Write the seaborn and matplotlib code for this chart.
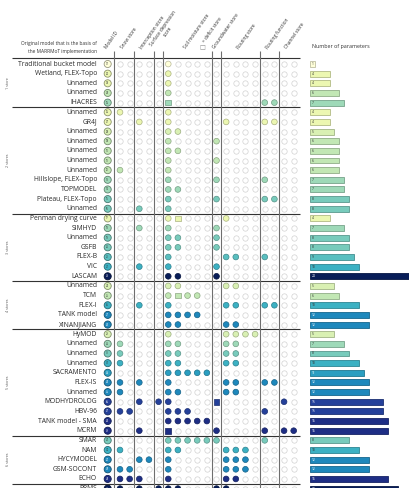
import numpy as np
import pandas as pd
import matplotlib
matplotlib.use("Agg")
import matplotlib.pyplot as plt
import matplotlib.colors as mcolors
import seaborn as sns

# --- data ------------------------------------------------------------------
model_names = [
    "Traditional bucket model", "Wetland, FLEX-Topo", "Unnamed", "Unnamed", "IHACRES",
    "Unnamed", "GR4J", "Unnamed", "Unnamed", "Unnamed", "Unnamed", "Unnamed",
    "Hillslope, FLEX-Topo", "TOPMODEL", "Plateau, FLEX-Topo", "Unnamed",
    "Penman drying curve", "SIMHYD", "Unnamed", "GSFB", "FLEX-B", "VIC", "LASCAM",
    "Unnamed", "TCM", "FLEX-I", "TANK model", "XINANJIANG",
    "HyMOD", "Unnamed", "Unnamed", "Unnamed", "SACRAMENTO", "FLEX-IS", "Unnamed",
    "MODHYDROLOG", "HBV-96", "TANK model - SMA", "MCRM",
    "SMAR", "NAM", "HYCYMODEL", "GSM-SOCONT", "ECHO",
    "PRMS",
]
n_params = [1, 4, 4, 6, 7,
            4, 4, 5, 6, 6, 6, 6, 7, 7, 8, 8,
            4, 7, 8, 8, 9, 10, 24,
            5, 6, 10, 12, 12,
            5, 7, 8, 10, 11, 12, 12, 15, 15, 16, 16,
            8, 10, 12, 12, 16,
            18]
group_labels = ["1 store", "2 stores", "3 stores", "4 stores", "5 stores", "6 stores", "7 stores"]
group_sizes = [5, 11, 7, 5, 11, 5, 1]

column_groups = ["Snow store", "Interception store", "Surface depression\nstore",
                 "Soil moisture store", "Groundwater store", "Routing store",
                 "Routing function", "Channel store"]
group_widths = [2, 2, 1, 5, 1, 4, 2, 2]

# o = store, s = deficit store, . = none  (groups split by |)
store_layout = [
    "..|..|.|o....|.|....|..|..",
    "..|..|.|o....|.|....|..|..",
    "..|..|.|o....|.|....|..|..",
    "..|..|.|o....|.|....|..|..",
    "..|..|.|s....|.|....|oo|..",
    "o.|..|.|o....|.|....|..|..",
    "..|o.|.|o....|.|o...|oo|..",
    "..|..|.|oo...|.|....|..|..",
    "..|..|.|o....|o|....|..|..",
    "..|..|.|oo...|.|....|..|..",
    "..|..|.|o....|o|....|..|..",
    "o.|..|.|o....|.|....|..|..",
    "..|..|.|o....|o|....|o.|..",
    "..|..|.|oo...|.|....|..|..",
    "..|..|.|o....|o|....|oo|..",
    "..|o.|.|o....|.|....|..|..",
    "..|..|.|os...|.|o...|..|..",
    "..|o.|.|o....|o|....|..|..",
    "..|..|.|oo...|o|....|..|..",
    "..|..|.|oo...|o|....|..|..",
    "..|..|.|o....|.|oo..|o.|..",
    "..|o.|.|o....|o|....|..|..",
    "..|..|.|oo...|o|....|..|..",
    "..|..|.|oo...|.|oo..|..|..",
    "..|..|.|osoo.|.|....|..|..",
    "..|o.|.|o....|.|oo..|oo|..",
    "..|..|.|oooo.|.|....|..|..",
    "..|..|.|oo...|.|oo..|..|..",
    "..|..|.|o....|.|oooo|..|..",
    "o.|..|.|oo...|.|oo..|..|..",
    "o.|..|.|oo...|.|oo..|..|..",
    "o.|..|.|oo...|.|oo..|..|..",
    "..|..|.|ooooo|.|....|..|..",
    "o.|o.|.|o....|.|oo..|oo|..",
    "o.|..|.|oo...|.|oo..|..|..",
    "..|o.|o|o....|s|....|..|o.",
    "oo|..|.|ooo..|.|....|o.|..",
    "..|..|.|ooooo|.|....|..|..",
    "..|o.|.|s....|o|....|o.|oo",
    "..|..|.|ooooo|o|....|o.|..",
    "o.|..|.|oo...|.|ooo.|..|..",
    "..|oo|.|o....|.|ooo.|..|..",
    "oo|..|.|o....|.|ooo.|..|..",
    "oo|o.|.|o....|.|oo..|..|..",
    "o.|o.|o|oo...|o|o...|..|..",
]

# --- layout (pixel geometry of the 410x488 figure) -------------------------
W, H = 410, 488
PX = 9.65            # pixels per row / column
X0, Y0 = 120, 64     # pixel centre of first store column / first row
BAR_X0, BAR_PX = 310, 4.9

ids = [f"{i + 1:02d}" for i in range(len(model_names))]

cmap = sns.color_palette("YlGnBu", as_cmap=True)
norm = mcolors.Normalize(vmin=2, vmax=17.5, clip=True)
row_colors = [cmap(norm(p)) for p in n_params]
palette = dict(zip(ids, row_colors))


def darker(c, f=0.72):
    r, g, b = mcolors.to_rgb(c)
    return (r * f, g * f, b * f)


def text_col(c):
    r, g, b = mcolors.to_rgb(c)
    return "white" if 0.299 * r + 0.587 * g + 0.114 * b < 0.5 else "#333333"


recs = []
for r, pattern in enumerate(store_layout):
    for c, ch in enumerate(pattern.replace("|", "")):
        recs.append({"row": r, "col": c, "kind": ch, "id": ids[r]})
cells = pd.DataFrame(recs)

sns.set_theme(style="white")
plt.rcParams["font.family"] = ["Open Sans", "DejaVu Sans"]

fig = plt.figure(figsize=(W / 100, H / 100), dpi=100)
ax = fig.add_axes([0, 0, 1, 1])
ax.set_xlim(-X0 / PX, (W - X0) / PX)
ylim = ((H - Y0) / PX, -Y0 / PX)
ax.set_ylim(*ylim)
ax.axis("off")

# empty slots
sns.scatterplot(data=cells[cells["kind"] == "."], x="col", y="row", marker="o", s=15,
                color="white", edgecolor="#d2d2d2", linewidth=0.5, ax=ax, legend=False)

# stores
filled = cells[cells["kind"] != "."].copy()
filled["shape"] = filled["kind"].map({"o": "store", "s": "deficit"})
sns.scatterplot(data=filled, x="col", y="row", hue="id", palette=palette, style="shape",
                markers={"store": "o", "deficit": "s"}, s=17, linewidth=0.5,
                ax=ax, legend=False)
coll = ax.collections[-1]
coll.set_edgecolors([darker(fc) for fc in coll.get_facecolors()])

# model ID circles
id_x = (107.7 - X0) / PX
id_df = pd.DataFrame({"x": id_x, "row": range(len(ids)), "id": ids})
sns.scatterplot(data=id_df, x="x", y="row", hue="id", palette=palette, s=26,
                linewidth=0.6, ax=ax, legend=False)
coll = ax.collections[-1]
coll.set_edgecolors([darker(fc, 0.6) for fc in coll.get_facecolors()])
for r, mid in enumerate(ids):
    ax.text(id_x, r, mid, fontsize=1.8, ha="center", va="center",
            color=text_col(row_colors[r]))

# model names
name_x = (97 - X0) / PX
for r, name in enumerate(model_names):
    ax.text(name_x, r, name, fontsize=4.9, ha="right", va="center", color="#2a2a2a")

ax.text(name_x, (43.5 - Y0) / PX, "Original model that is the basis of",
        fontsize=3.5, ha="right", va="center", color="#333333")
ax.text(name_x, (51.5 - Y0) / PX, "the MARRMoT implementation",
        fontsize=3.5, ha="right", va="center", color="#333333")

# grid lines
bounds = np.cumsum(group_sizes)[:-1] - 0.5
line_x0, line_x1 = (12 - X0) / PX, (300 - X0) / PX
ax.hlines(bounds, line_x0, line_x1, color="#333333", lw=0.8)
ax.hlines((58 - Y0) / PX, line_x0, line_x1, color="#333333", lw=0.8)
vx = [(114.5 - X0) / PX] + list(np.cumsum(group_widths)[:-1] - 0.5)
ax.vlines(vx, (51 - Y0) / PX, ylim[0] + 1, color="#6e6e6e", lw=0.8)

# group labels on the left
start = 0
for lab, n in zip(group_labels, group_sizes):
    centre = start + (n - 1) / 2
    if centre < ylim[0]:
        ax.text((8.5 - X0) / PX, centre, lab, fontsize=2.6, rotation=90,
                ha="center", va="center", color="#555555")
    start += n

# rotated column headers
head_y = (50 - Y0) / PX
ax.text(id_x, head_y, "Model ID", fontsize=3.4, rotation=55, rotation_mode="anchor",
        ha="left", va="bottom", color="#333333")
edges = np.concatenate([[-0.5], np.cumsum(group_widths) - 0.5])
for lab, a, b in zip(column_groups, edges[:-1], edges[1:]):
    ax.text((a + b) / 2 - 0.1, head_y, lab, fontsize=3.4, rotation=55,
            rotation_mode="anchor", ha="left", va="bottom", color="#333333",
            multialignment="center")
ax.text((202 - X0) / PX, (48 - Y0) / PX, "\u25a1", fontsize=4.5, ha="center",
        va="center", color="#888888")
ax.text((206 - X0) / PX, (44 - Y0) / PX, "= deficit store", fontsize=3.4, rotation=55,
        rotation_mode="anchor", ha="left", va="bottom", color="#333333")

# number of parameters bars
axb = fig.add_axes([BAR_X0 / W, 0, (W - BAR_X0) / W, 1])
bar_df = pd.DataFrame({"id": ids, "params": n_params})
sns.barplot(data=bar_df, x="params", y="id", hue="id", palette=palette, orient="h",
            width=0.62, saturation=1, legend=False, ax=axb)
for patch in axb.patches:
    patch.set_edgecolor(darker(patch.get_facecolor(), 0.75))
    patch.set_linewidth(0.6)
for r, p in enumerate(n_params):
    axb.text(0.3, r, str(p), fontsize=2.4, ha="left", va="center",
             color=text_col(row_colors[r]))
axb.set_xlim(0, (W - BAR_X0) / BAR_PX)
axb.set_ylim(*ylim)
axb.axis("off")
axb.patch.set_alpha(0)
axb.text(0.4, (46.5 - Y0) / PX, "Number of parameters", fontsize=3.9,
         ha="left", va="center", color="#333333")

fig.savefig("out.png", dpi=100, facecolor="white")
